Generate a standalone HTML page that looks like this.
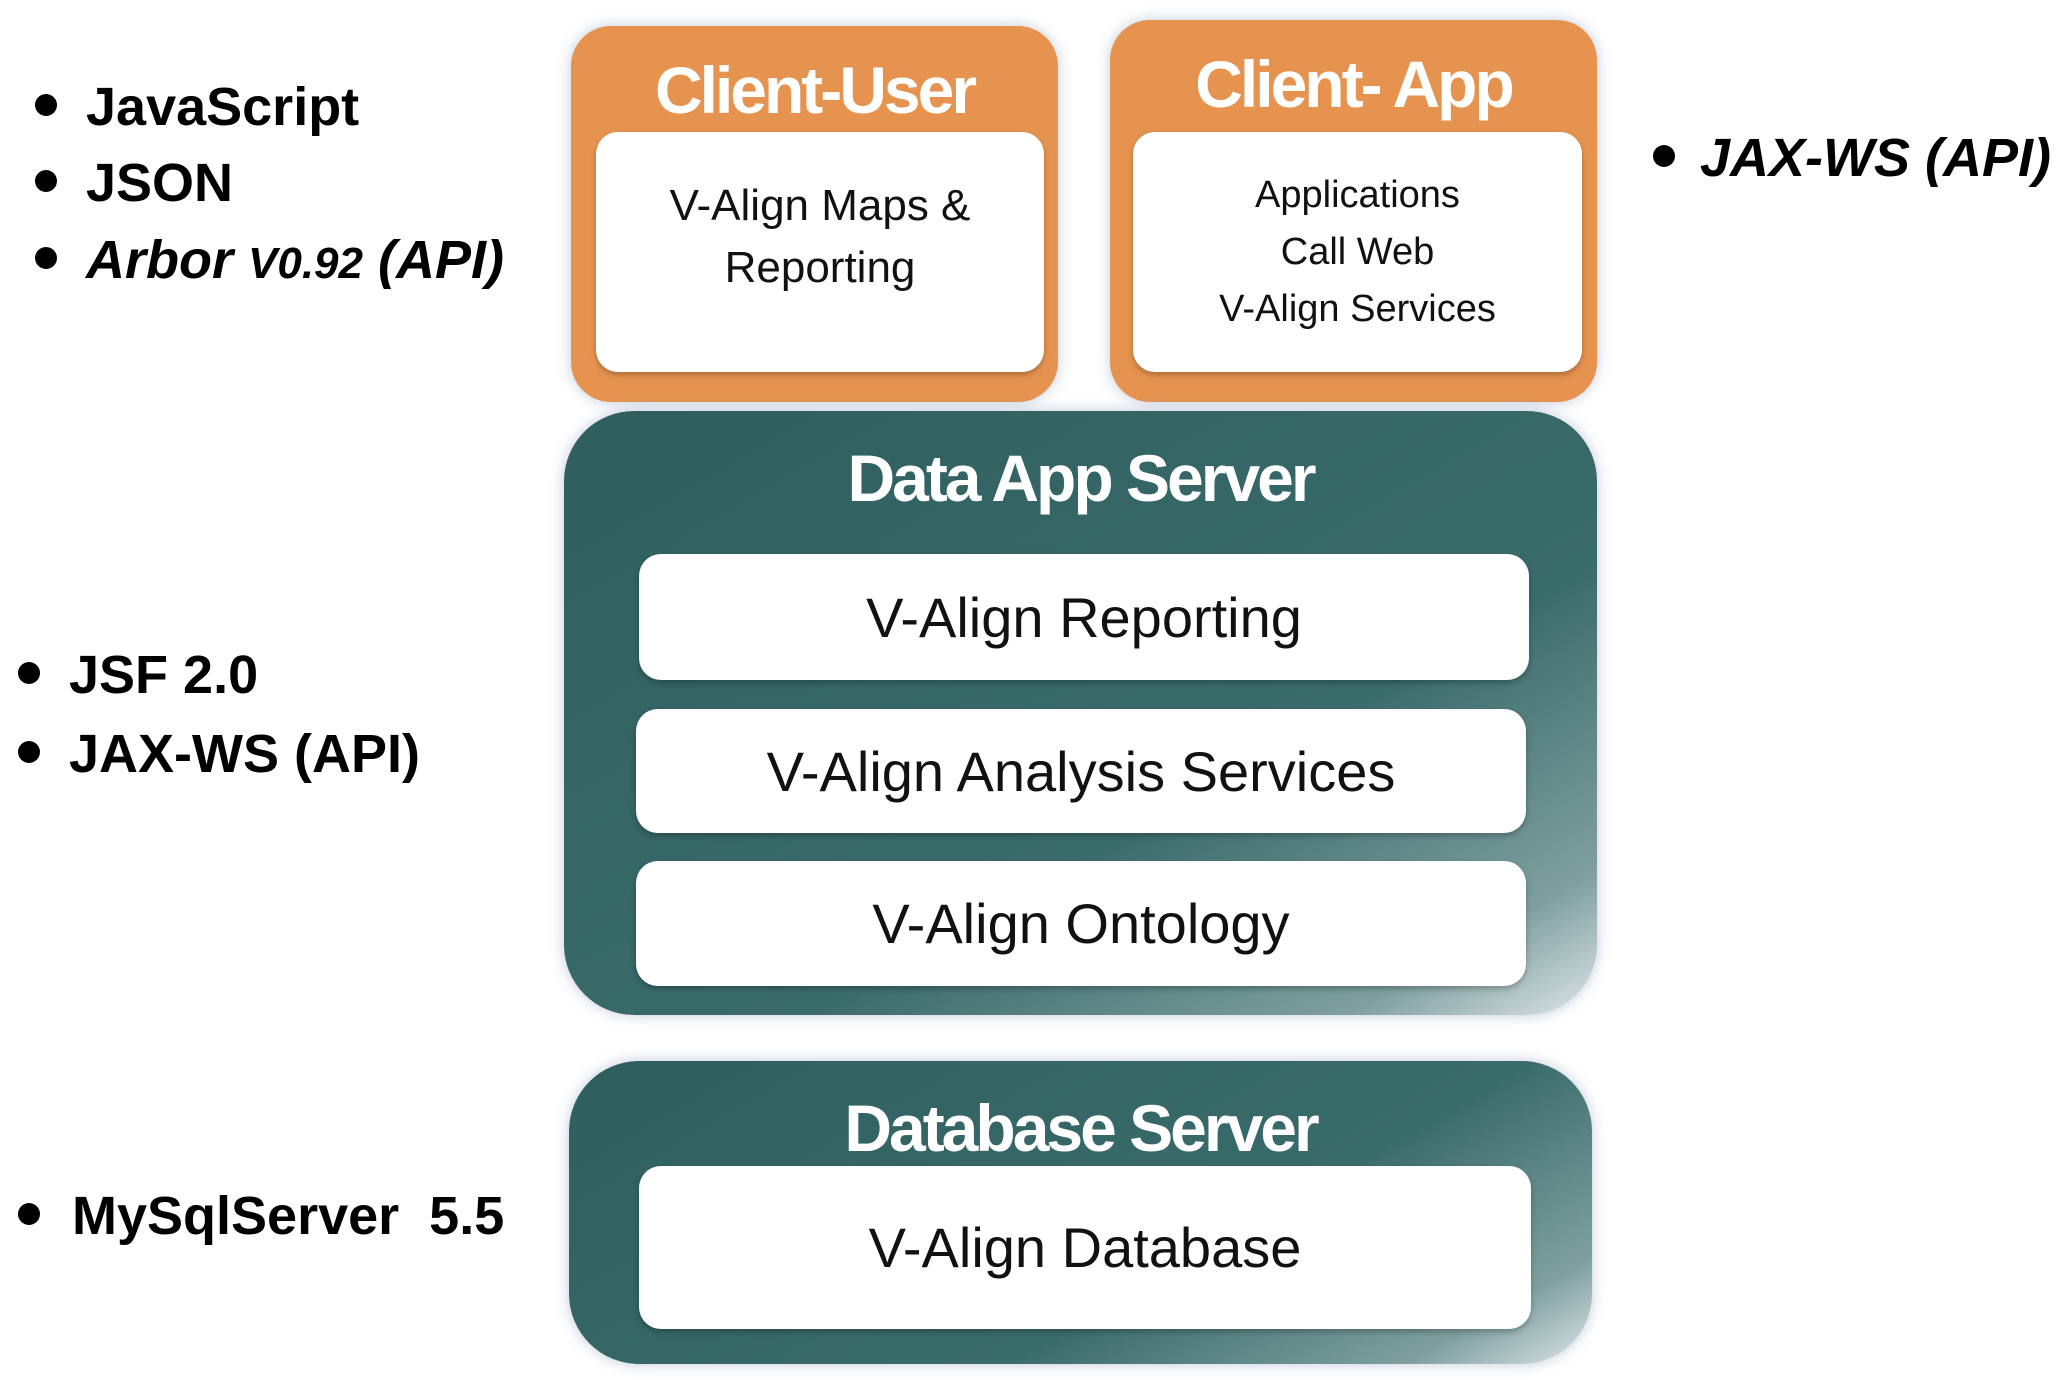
<!DOCTYPE html>
<html><head><meta charset="utf-8"><style>
body{margin:0;width:2067px;height:1380px;background:#fff;position:relative;overflow:hidden;font-family:"Liberation Sans",sans-serif}
.t{position:absolute;font-weight:bold;font-size:54px;color:#000;white-space:nowrap;line-height:1}
.dot{position:absolute;width:22px;height:22px;border-radius:50%;background:#000}
.or{position:absolute;background:#e69350;border-radius:40px;box-shadow:0 0 14px rgba(120,140,170,.45)}
.tl{position:absolute;background:linear-gradient(150deg,#2f5e5e 0%,#3a6b6b 62%,#7f9f9f 88%,#dfe6e9 100%);border-radius:70px;box-shadow:0 0 14px rgba(120,140,170,.45)}
.w{position:absolute;background:#fff;border-radius:22px;box-shadow:0 3px 6px rgba(0,0,0,.25);display:flex;align-items:center;justify-content:center;text-align:center;color:#111}
.h{position:absolute;color:#fff;font-weight:bold;text-align:center;white-space:nowrap;letter-spacing:-3px}
</style></head><body>
<div class="dot" style="left:35px;top:94px"></div><div class="t" style="left:86px;top:80px">JavaScript</div>
<div class="dot" style="left:35px;top:170px"></div><div class="t" style="left:86px;top:156px">JSON</div>
<div class="dot" style="left:35px;top:247px"></div><div class="t" style="left:86px;top:233px;font-style:italic">Arbor <span style="font-size:44px">V0.92</span> (API)</div>
<div class="dot" style="left:18px;top:662px"></div><div class="t" style="left:69px;top:648px">JSF 2.0</div>
<div class="dot" style="left:18px;top:741px"></div><div class="t" style="left:69px;top:727px">JAX-WS (API)</div>
<div class="dot" style="left:18px;top:1203px"></div><div class="t" style="left:72px;top:1189px">MySqlServer&nbsp; 5.5</div>
<div class="dot" style="left:1653px;top:145px"></div><div class="t" style="left:1700px;top:131px;font-style:italic">JAX-WS (API)</div>

<div class="or" style="left:571px;top:26px;width:487px;height:376px"></div>
<div class="h" style="left:571px;top:52px;width:487px;font-size:66px">Client-User</div>
<div class="w" style="left:596px;top:132px;width:448px;height:240px;font-size:44px;line-height:1.4"><div style="margin-top:-30px">V-Align Maps &amp;<br>Reporting</div></div>

<div class="or" style="left:1110px;top:20px;width:487px;height:382px"></div>
<div class="h" style="left:1110px;top:46px;width:487px;font-size:66px">Client- App</div>
<div class="w" style="left:1133px;top:132px;width:449px;height:240px;font-size:38px;line-height:1.5">Applications<br>Call Web<br>V-Align Services</div>

<div class="tl" style="left:564px;top:411px;width:1033px;height:604px"></div>
<div class="h" style="left:564px;top:440px;width:1033px;font-size:66px">Data App Server</div>
<div class="w" style="left:639px;top:554px;width:890px;height:126px;font-size:56px">V-Align Reporting</div>
<div class="w" style="left:636px;top:709px;width:890px;height:124px;font-size:56px">V-Align Analysis Services</div>
<div class="w" style="left:636px;top:861px;width:890px;height:125px;font-size:56px">V-Align Ontology</div>

<div class="tl" style="left:569px;top:1061px;width:1023px;height:303px"></div>
<div class="h" style="left:569px;top:1090px;width:1023px;font-size:66px">Database Server</div>
<div class="w" style="left:639px;top:1166px;width:892px;height:163px;font-size:56px">V-Align Database</div>
</body></html>
